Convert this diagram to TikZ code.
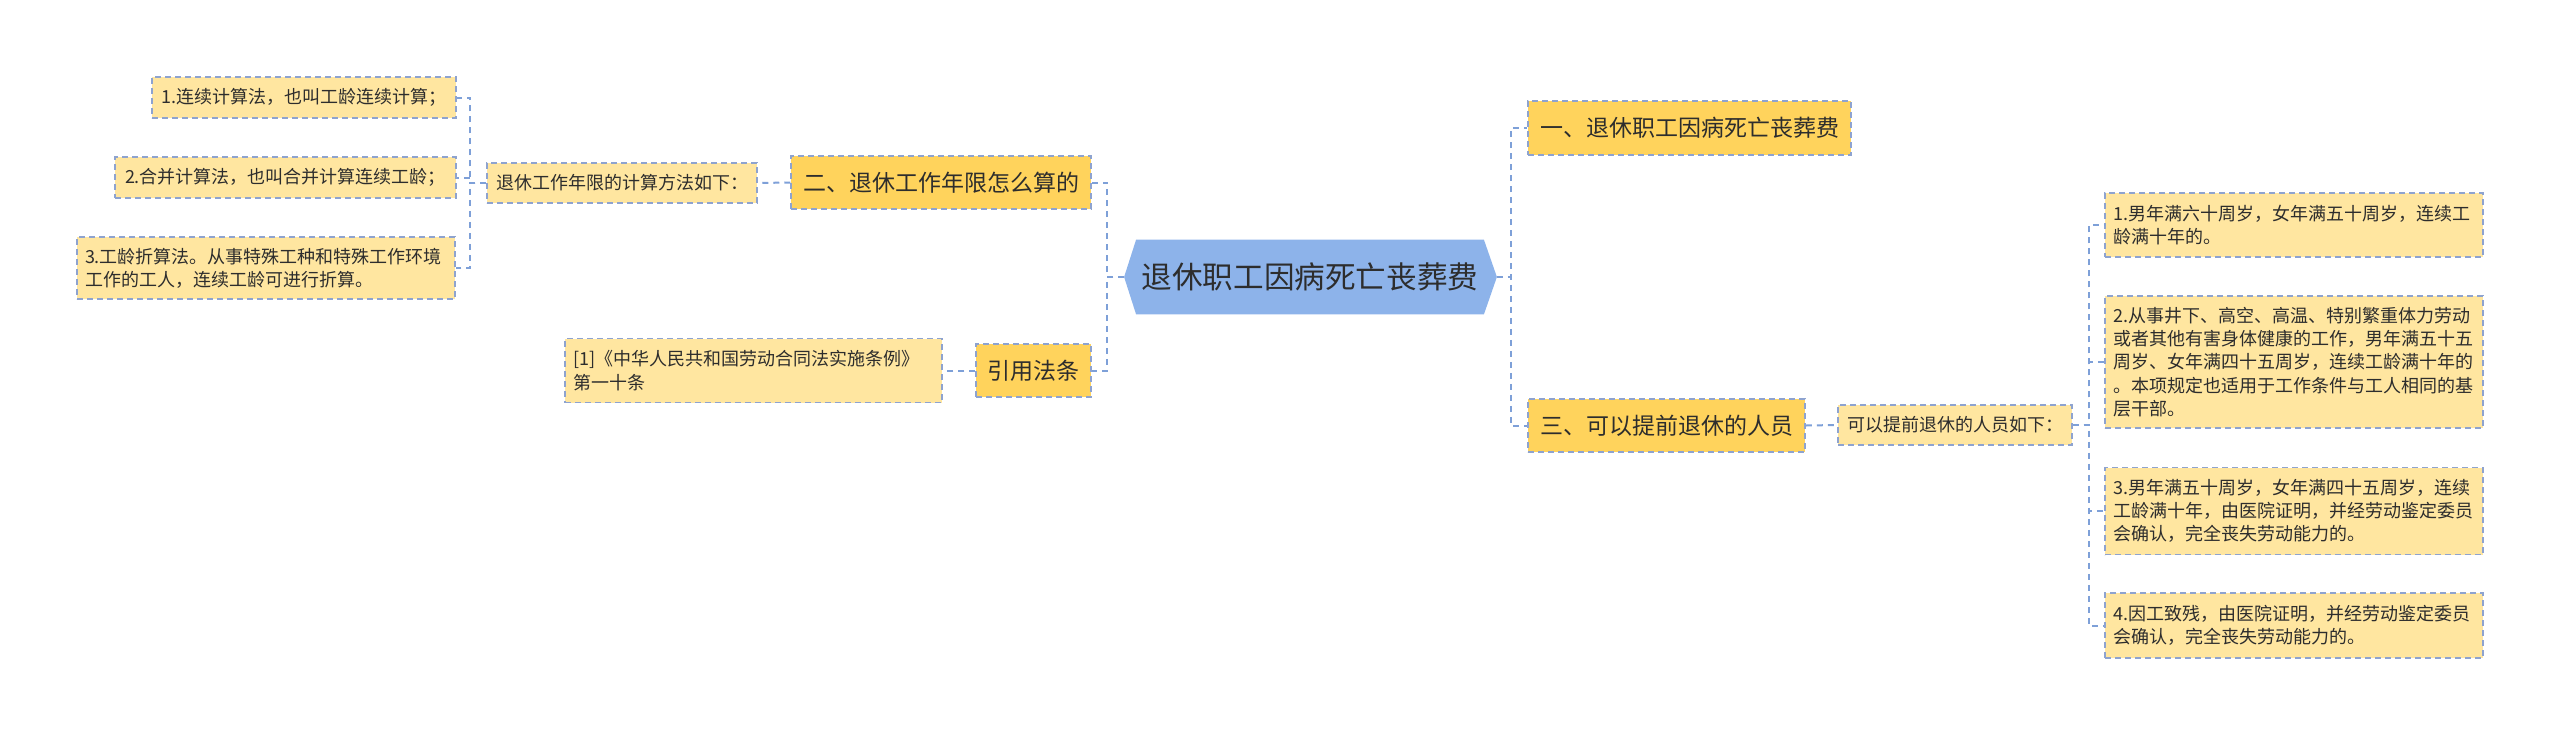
\documentclass[tikz,border=0pt]{standalone}
\usepackage{fontspec}
\setmainfont{Noto Sans CJK SC}
\usetikzlibrary{backgrounds}
\definecolor{conncol}{RGB}{126,160,216}
\definecolor{bordercol}{RGB}{142,163,207}
\definecolor{lvlonefill}{RGB}{255,211,92}
\definecolor{lvltwofill}{RGB}{255,230,160}
\definecolor{rootfill}{RGB}{141,179,234}
\definecolor{txtcol}{RGB}{45,45,45}
\begin{document}
\begin{tikzpicture}[x=0.5pt,y=-0.5pt,
  conn/.style={draw=conncol, line width=1pt, dash pattern=on 3pt off 2.5pt},
  box/.style={draw=bordercol, line width=0.75pt, dash pattern=on 3pt off 2pt, text=txtcol, inner xsep=4pt, inner ysep=0pt, align=left},
  lvlone/.style={box, fill=lvlonefill, font=\fontsize{11.5}{14}\selectfont},
  lvltwo/.style={box, fill=lvltwofill, font=\fontsize{9}{11.65}\selectfont},
]
\useasboundingbox (0,0) rectangle (2560,735);

% root
\node[font=\fontsize{15.3}{18}\selectfont, text=txtcol, minimum width=173.5pt, minimum height=37pt, inner sep=0pt] (R) at (1310,277) {退休职工因病死亡丧葬费};
\begin{scope}[on background layer]
\fill[rootfill] (R.north west) -- (R.north east) -- ([xshift=6.5pt]R.east) -- (R.south east) -- (R.south west) -- ([xshift=-6pt]R.west) -- cycle;
\end{scope}
\coordinate (Rl) at ([xshift=-6pt]R.west);
\coordinate (Rr) at ([xshift=6.5pt]R.east);

% left side
\node[lvlone, minimum width=150pt, minimum height=26.5pt] (C) at (941,182.5) {二、退休工作年限怎么算的};
\node[lvlone, minimum width=57.5pt, minimum height=26.5pt] (D) at (1033.5,370.5) {引用法条};
\node[lvltwo, minimum width=135pt, minimum height=20pt] (B) at (622,183) {退休工作年限的计算方法如下：};
\node[lvltwo, text width=180.5pt, minimum height=32pt] (E) at (753.5,370.5) {[1]《中华人民共和国劳动合同法实施条例》\\第一十条};
\node[lvltwo, minimum width=152pt, minimum height=20.5pt] (A1) at (304,97.5) {1.连续计算法，也叫工龄连续计算；};
\node[lvltwo, minimum width=170.5pt, minimum height=20.5pt] (A2) at (285.5,177.5) {2.合并计算法，也叫合并计算连续工龄；};
\node[lvltwo, text width=181pt, minimum height=31pt] (A3) at (266,268) {3.工龄折算法。从事特殊工种和特殊工作环境\\工作的工人，连续工龄可进行折算。};

% right side
\node[lvlone, minimum width=161.5pt, minimum height=27pt] (F) at (1689.5,128) {一、退休职工因病死亡丧葬费};
\node[lvlone, minimum width=138.5pt, minimum height=26.5pt] (G) at (1666.5,425.5) {三、可以提前退休的人员};
\node[lvltwo, minimum width=117pt, minimum height=20pt] (H) at (1955,425) {可以提前退休的人员如下：};
\node[lvltwo, text width=181pt, minimum height=32pt] (I1) at (2294,225) {1.男年满六十周岁，女年满五十周岁，连续工\\龄满十年的。};
\node[lvltwo, text width=181pt, minimum height=66pt] (I2) at (2294,362) {2.从事井下、高空、高温、特别繁重体力劳动\\或者其他有害身体健康的工作，男年满五十五\\周岁、女年满四十五周岁，连续工龄满十年的\\。本项规定也适用于工作条件与工人相同的基\\层干部。};
\node[lvltwo, text width=181pt, minimum height=43.5pt] (I3) at (2294,511) {3.男年满五十周岁，女年满四十五周岁，连续\\工龄满十年，由医院证明，并经劳动鉴定委员\\会确认，完全丧失劳动能力的。};
\node[lvltwo, text width=181pt, minimum height=32.5pt] (I4) at (2294,625.5) {4.因工致残，由医院证明，并经劳动鉴定委员\\会确认，完全丧失劳动能力的。};

% junctions
\coordinate (jR0L) at (1107,277);
\coordinate (jBL) at (470,183);
\coordinate (jR0R) at (1511,277);
\coordinate (jHR) at (2089,425);

% connectors
\draw[conn] (Rl) -- (jR0L) |- (C.east);
\draw[conn] (Rl) -- (jR0L) |- (D.east);
\draw[conn] (C.west) -- (B.east);
\draw[conn] (D.west) -- (E.east);
\draw[conn] (B.west) -- (jBL) |- (A1.east);
\draw[conn] (B.west) -- (jBL) |- (A2.east);
\draw[conn] (B.west) -- (jBL) |- (A3.east);
\draw[conn] (Rr) -- (jR0R) |- (F.west);
\draw[conn] (Rr) -- (jR0R) |- (G.west);
\draw[conn] (G.east) -- (H.west);
\draw[conn] (H.east) -- (jHR) |- (I1.west);
\draw[conn] (H.east) -- (jHR) |- (I2.west);
\draw[conn] (H.east) -- (jHR) |- (I3.west);
\draw[conn] (H.east) -- (jHR) |- (I4.west);
\end{tikzpicture}
\end{document}
